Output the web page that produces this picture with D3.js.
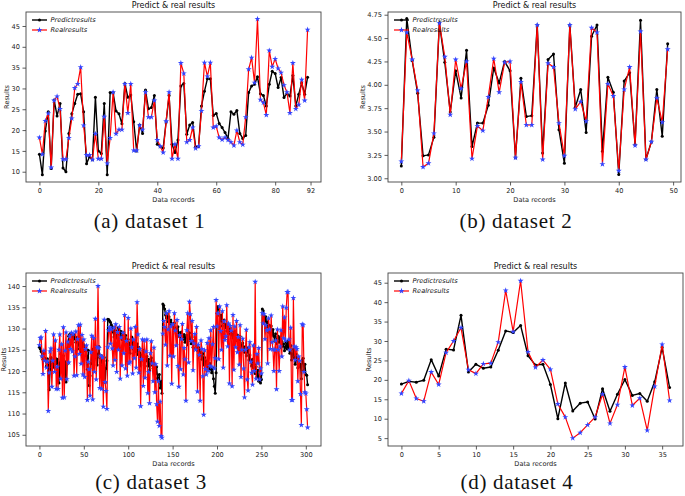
<!DOCTYPE html>
<html><head><meta charset="utf-8">
<script src="https://cdn.jsdelivr.net/npm/d3@7"></script>
<style>body{margin:0;background:#fff} svg{display:block}</style>
</head><body>
<svg id="chart" width="685" height="496"></svg>
<script>
// ---------- DATA ----------
const pred1 = [14.2,9.3,19.8,24.4,10.8,27.2,23.4,26.4,10.9,10.0,
19.2,23.9,26.4,28.6,28.7,24.4,11.9,13.6,12.9,27.9,
15.0,14.4,26.4,9.3,29.0,29.0,24.6,23.9,21.5,31.2,
27.9,28.4,22.0,15.0,21.2,19.2,29.6,25.1,25.4,28.3,
16.6,16.0,15.7,22.0,28.3,16.6,14.6,17.6,30.6,31.2,
19.0,21.2,21.8,16.0,16.0,25.8,29.3,32.3,32.3,23.5,
24.0,21.6,20.6,19.4,18.0,24.4,23.8,24.7,19.2,18.0,
18.7,29.0,30.6,31.0,32.8,28.7,28.3,25.8,31.0,34.1,
33.6,30.2,32.6,27.8,28.8,28.2,33.1,25.8,28.6,31.3,
28.6,32.7];
const real1 = [18.2,14.2,22.2,24.0,11.0,27.1,28.1,25.1,13.0,13.0,
18.1,22.8,30.1,31.1,35.1,21.1,14.0,14.0,12.9,19.1,
13.1,13.1,23.2,12.0,18.1,29.1,19.1,20.1,20.1,31.1,
24.1,31.1,15.1,15.1,21.1,20.1,29.1,23.1,23.1,27.1,
17.6,16.1,14.6,22.1,29.1,13.1,16.6,13.1,36.1,33.6,
17.1,17.6,20.6,15.6,16.1,24.6,36.2,32.9,36.2,20.6,
20.9,18.2,17.7,18.2,17.6,17.1,16.3,19.9,17.1,16.5,
23.1,34.6,37.4,31.4,46.7,27.3,26.6,23.6,39.1,35.2,
37.1,34.8,33.8,30.8,29.1,24.1,36.1,25.1,26.1,32.1,
27.1,44.1];

const pred2 = [3.13,4.71,4.26,3.91,3.24,3.25,3.44,4.66,4.24,3.71,
4.15,3.86,4.37,3.34,3.59,3.59,3.78,4.18,4.02,4.25,
4.15,3.22,4.07,3.66,3.67,4.64,3.27,4.27,4.33,3.52,
3.16,4.64,3.76,3.95,3.49,4.52,4.64,3.29,4.08,3.92,
3.04,4.04,4.13,3.36,4.69,3.20,3.39,3.95,3.45,4.44];
const real2 = [3.18,4.56,4.27,3.94,3.12,3.16,3.48,4.66,4.30,3.68,
4.27,3.96,4.25,3.21,3.56,3.51,3.87,4.28,3.92,4.24,
4.25,3.22,4.03,3.57,3.57,4.64,3.20,4.23,4.19,3.59,
3.24,4.64,3.74,3.82,3.61,4.61,4.56,3.15,4.01,3.88,
3.08,3.95,4.19,3.35,4.57,3.20,3.39,3.86,3.60,4.38];

const pred3 = [125.6,125.2,124.6,123.4,122.8,124.1,123.0,122.5,121.2,122.9,
121.8,115.6,120.4,123.2,121.5,122.6,120.9,124.6,123.0,121.7,
122.8,120.5,117.2,121.9,124.0,122.4,119.8,123.6,121.0,122.2,
117.4,121.6,125.4,128.2,128.6,128.8,128.7,128.2,127.5,128.4,
127.6,126.8,127.9,125.2,126.4,127.3,125.8,124.5,126.9,125.6,
126.2,124.8,125.3,123.6,120.4,124.9,116.6,118.9,121.8,124.2,
125.1,122.4,124.6,125.8,123.1,121.4,124.0,125.8,123.2,122.0,
123.6,121.3,119.8,123.2,117.3,120.6,122.4,132.2,132.1,131.8,
131.5,130.9,130.4,129.2,128.0,130.2,129.5,127.8,128.6,130.1,
129.6,128.1,129.3,127.4,128.5,129.0,126.2,128.4,127.0,125.6,
127.4,126.5,124.2,126.8,128.0,126.3,125.1,127.2,124.6,125.8,
126.4,123.9,125.6,124.3,121.2,123.8,122.6,124.9,121.4,123.2,
122.4,123.5,121.2,122.8,120.2,122.0,123.1,121.4,120.6,121.8,
120.2,119.4,121.0,118.3,117.8,119.2,116.0,117.6,114.8,135.8,
135.4,134.6,133.2,132.5,133.4,131.6,132.8,130.9,132.0,131.2,
130.6,129.4,131.3,130.0,128.8,129.6,130.4,128.2,129.0,127.6,
129.2,128.1,127.5,128.6,126.8,127.9,128.4,126.2,127.6,129.0,
127.2,126.4,128.0,125.6,126.9,127.3,125.2,126.0,124.8,125.6,
125.0,123.6,124.5,122.8,124.1,121.4,123.2,122.0,120.6,122.4,
121.0,120.2,121.8,120.4,119.6,120.8,118.2,116.4,114.8,119.6,
133.6,135.2,134.6,133.0,131.8,133.2,130.6,131.4,132.0,130.2,
131.0,129.4,130.6,128.8,129.6,130.2,128.4,129.1,127.8,128.6,
129.3,128.0,127.2,128.5,126.6,127.4,128.1,126.0,125.2,126.6,
125.2,124.4,125.8,123.6,124.6,125.4,122.6,123.8,122.4,121.2,
122.8,120.8,121.6,119.4,121.0,118.6,120.2,117.6,118.8,117.2,
118.0,134.6,134.2,133.0,131.6,132.8,130.4,131.6,129.2,130.8,
129.4,130.6,128.6,129.8,128.2,127.0,128.8,126.4,127.6,128.2,
126.8,127.8,125.6,127.0,125.9,126.4,124.8,125.6,126.8,125.2,
127.0,125.4,124.2,126.0,122.6,123.8,125.1,123.2,121.6,124.0,
122.4,120.8,123.2,121.0,121.6,118.2,122.6,123.0,120.2,121.6,
119.2,119.0,116.8];
const real3 = [126.1,127.8,127.9,123.5,119.3,124.8,122.4,129.4,120.8,122.2,
110.6,119.6,124.6,125.3,116.3,122.4,128.6,119.8,127.2,115.8,
121.0,115.8,125.0,128.6,118.2,126.3,113.7,130.3,113.8,124.8,
129.1,118.1,126.9,122.0,128.2,125.2,129.0,124.6,128.7,118.9,
123.4,129.3,119.0,127.5,130.8,124.0,130.9,121.7,128.5,119.2,
127.4,118.6,125.2,126.0,113.2,122.2,120.4,114.2,124.4,128.3,
113.3,127.8,119.8,132.3,118.0,125.6,140.0,125.4,116.0,123.6,
115.8,123.2,111.6,132.1,117.4,115.3,111.1,125.6,129.6,130.3,
126.4,129.8,125.3,121.3,130.2,122.6,131.0,119.8,129.2,125.0,
130.4,118.2,127.9,121.3,129.0,124.2,133.2,120.6,127.1,118.9,
132.5,121.8,122.2,130.0,125.6,119.4,127.4,123.0,130.4,120.8,
136.2,128.6,119.6,125.2,111.7,122.8,127.4,116.5,127.2,118.4,
124.6,127.4,114.8,119.8,112.4,124.2,127.0,121.8,117.6,125.5,
115.0,121.6,112.2,108.1,117.6,107.1,112.8,104.7,104.3,128.8,
131.8,130.4,126.2,133.6,121.3,129.8,134.1,123.6,130.5,117.0,
131.0,123.4,133.6,129.5,126.0,132.0,121.2,116.3,128.4,120.4,
127.5,131.1,119.2,125.4,122.8,113.0,129.6,133.6,122.0,136.3,
133.4,127.1,131.8,120.2,126.5,128.7,125.0,130.4,115.2,126.2,
123.8,113.0,127.2,125.2,118.8,109.7,124.9,120.5,119.2,126.6,
120.0,127.7,121.2,129.6,121.0,126.3,130.4,120.6,123.0,136.7,
130.5,133.6,122.8,135.2,129.4,125.0,134.1,120.8,131.7,127.3,
128.2,135.5,125.8,131.2,117.1,130.6,129.5,116.4,133.2,120.3,
130.5,125.6,131.8,124.4,128.0,121.5,130.8,118.6,125.0,127.6,
120.6,113.8,125.0,129.7,118.0,115.4,125.6,126.8,122.2,119.6,
116.8,126.0,120.0,141.0,118.2,124.0,121.8,125.4,118.0,120.6,
119.4,133.6,131.2,133.4,127.5,130.8,129.6,121.8,132.4,129.8,
125.2,133.1,126.8,125.1,120.0,125.0,127.2,115.7,129.8,125.0,
120.0,125.8,129.6,123.4,135.2,127.7,132.6,127.2,134.9,138.6,
138.6,127.4,125.0,130.2,113.2,113.2,137.2,125.8,122.6,125.6,
125.2,117.6,123.4,122.4,114.6,107.3,131.0,130.8,119.8,115.0,
114.7,111.0,106.7];

const pred4 = [18.9,19.6,19.4,19.9,25.2,21.0,27.9,27.7,36.6,22.0,
24.0,23.0,23.3,27.6,32.6,32.2,34.0,26.2,23.8,24.0,
18.8,10.0,19.2,12.0,14.0,14.3,9.9,17.7,11.9,16.3,
20.1,16.0,16.5,14.5,19.5,28.3,18.0];
const real4 = [16.5,19.8,15.2,14.5,22.0,18.8,27.0,30.0,33.4,22.6,
21.6,24.1,24.3,29.7,43.0,32.4,45.5,27.2,23.2,25.1,
22.7,13.8,10.4,5.0,6.4,8.4,10.4,16.3,8.8,13.6,
23.3,13.4,15.3,7.0,18.3,29.1,14.7];

const xTicks1 = [0,20,40,60,80,92];
const yTicks1 = [10,15,20,25,30,35,40,45];
const xTicks2 = [0,10,20,30,40,50];
const yTicks2 = [3.00,3.25,3.50,3.75,4.00,4.25,4.50,4.75];
const xTicks3 = [0,50,100,150,200,250,300];
const yTicks3 = [105,110,115,120,125,130,135,140];
const xTicks4 = [0,5,10,15,20,25,30,35];
const yTicks4 = [5,10,15,20,25,30,35,40,45];

const titleText = "Predict & real results";
const legendLabels = ["Predictresults", "Realresults"];
const xLabel = "Data records";
const yLabel = "Results";
const captions = ["(a) dataset 1", "(b) dataset 2", "(c) dataset 3", "(d) dataset 4"];

// ---------- LAYOUT ----------
const panels = [
  {pred: pred1, real: real1, box: [26, 321, 12, 182], xd: [-4.55, 95.55], yd: [7.53, 48.36],
   xt: xTicks1, yt: yTicks1, yfmt: d3.format("d"), ylabX: 7, caption: captions[0], capX: 149.5, capY: 228},
  {pred: pred2, real: real2, box: [388, 681, 12, 182], xd: [-2.45, 51.45], yd: [2.96, 4.779],
   xt: xTicks2, yt: yTicks2, yfmt: d3.format(".2f"), ylabX: 363, caption: captions[1], capX: 516, capY: 228},
  {pred: pred3, real: real3, box: [26, 321, 273, 446], xd: [-15.1, 317.1], yd: [102.36, 143.07],
   xt: xTicks3, yt: yTicks3, yfmt: d3.format("d"), ylabX: 4, caption: captions[2], capX: 151, capY: 489},
  {pred: pred4, real: real4, box: [388, 683, 273, 446], xd: [-1.8, 37.8], yd: [2.975, 47.5],
   xt: xTicks4, yt: yTicks4, yfmt: d3.format("d"), ylabX: 369, caption: captions[3], capX: 517, capY: 489}
];

const svg = d3.select("#chart");
const FONT = "'DejaVu Sans', sans-serif";
const starSym = d3.symbol().type(d3.symbolStar).size(11);

panels.forEach((p, k) => {
  const [L, R, T, B] = p.box;
  const x = d3.scaleLinear().domain(p.xd).range([L, R]);
  const y = d3.scaleLinear().domain(p.yd).range([B, T]);
  const g = svg.append("g");

  const clipId = "clip" + k;
  g.append("clipPath").attr("id", clipId).append("rect")
    .attr("x", L).attr("y", T).attr("width", R - L).attr("height", B - T);

  // axes
  const ax = g.append("g").attr("transform", `translate(0,${B})`)
    .call(d3.axisBottom(x).tickValues(p.xt).tickSize(3.5).tickPadding(2.5).tickFormat(d3.format("d")));
  const ay = g.append("g").attr("transform", `translate(${L},0)`)
    .call(d3.axisLeft(y).tickValues(p.yt).tickSize(3.5).tickPadding(2.5).tickFormat(p.yfmt));
  [ax, ay].forEach(a => {
    a.select(".domain").remove();
    a.selectAll(".tick line").attr("stroke", "#333").attr("stroke-width", 0.8);
    a.selectAll(".tick text").attr("fill", "#222").style("font-family", FONT).style("font-size", "6.6px");
  });

  const plot = g.append("g").attr("clip-path", `url(#${clipId})`);
  const line = d3.line().x((d, i) => x(i)).y(d => y(d));

  plot.append("path").datum(p.pred).attr("d", line)
    .attr("fill", "none").attr("stroke", "#000").attr("stroke-width", 1.4).attr("stroke-linejoin", "round");
  plot.selectAll(".pm").data(p.pred).join("circle").attr("class", "pm")
    .attr("cx", (d, i) => x(i)).attr("cy", d => y(d)).attr("r", 1.5).attr("fill", "#000");

  plot.append("path").datum(p.real).attr("d", line)
    .attr("fill", "none").attr("stroke", "#ff0000").attr("stroke-width", 1.2).attr("stroke-linejoin", "round");
  plot.selectAll(".rm").data(p.real).join("path").attr("class", "rm")
    .attr("d", starSym).attr("transform", (d, i) => `translate(${x(i)},${y(d)})`)
    .attr("fill", "#3344ff");

  // frame
  g.append("rect").attr("x", L).attr("y", T).attr("width", R - L).attr("height", B - T)
    .attr("fill", "none").attr("stroke", "#444").attr("stroke-width", 0.9);

  // title
  g.append("text").attr("x", (L + R) / 2).attr("y", T - 4).attr("text-anchor", "middle")
    .style("font-family", FONT).style("font-size", "8px").attr("fill", "#111").text(titleText);

  // axis labels
  g.append("text").attr("x", (L + R) / 2).attr("y", B + 19.5).attr("text-anchor", "middle")
    .style("font-family", FONT).style("font-size", "6.6px").attr("fill", "#222").text(xLabel);
  g.append("text").attr("transform", `translate(${p.ylabX},${(T + B) / 2}) rotate(-90)`)
    .attr("text-anchor", "middle").attr("dy", "0.35em")
    .style("font-family", FONT).style("font-size", "6.6px").attr("fill", "#222").text(yLabel);

  // legend
  const lg = g.append("g").attr("transform", `translate(${L + 6},${T + 8})`);
  const rows = [{c: "#000", m: "circle"}, {c: "#ff0000", m: "star"}];
  rows.forEach((r, j) => {
    const yy = j * 10;
    lg.append("line").attr("x1", 0).attr("x2", 15).attr("y1", yy).attr("y2", yy)
      .attr("stroke", r.c).attr("stroke-width", j ? 1.2 : 1.4);
    if (r.m === "circle") lg.append("circle").attr("cx", 7.5).attr("cy", yy).attr("r", 1.5).attr("fill", "#000");
    else lg.append("path").attr("d", starSym).attr("transform", `translate(7.5,${yy})`).attr("fill", "#3344ff");
    lg.append("text").attr("x", 18.5).attr("y", yy).attr("dy", "0.35em")
      .style("font-family", FONT).style("font-size", "6.6px").style("font-style", "italic")
      .attr("fill", "#111").text(legendLabels[j]);
  });

  // caption
  svg.append("text").attr("x", p.capX).attr("y", p.capY).attr("text-anchor", "middle")
    .style("font-family", "'Liberation Serif', 'Times New Roman', serif").style("font-size", "21px")
    .style("letter-spacing", "0.7px").attr("fill", "#111").text(p.caption);
});
</script>
</body></html>
